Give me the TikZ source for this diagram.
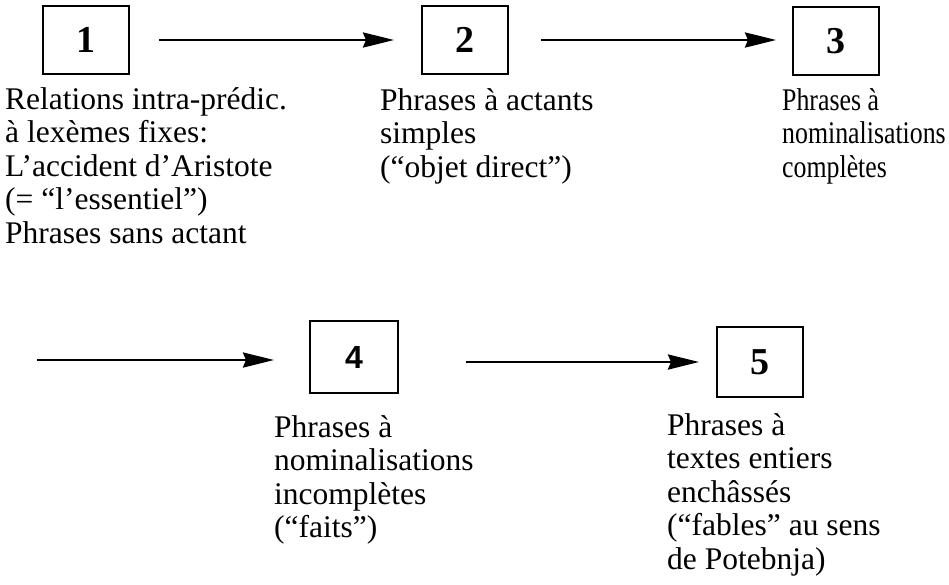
\documentclass[tikz,border=0pt]{standalone}
\usepackage{fontspec}
\setmainfont{Liberation Serif}
\newfontfamily\numsans{Liberation Sans}
\usetikzlibrary{arrows.meta}
\begin{document}
\begin{tikzpicture}[x=1pt,y=-1pt,
  numbox/.style={draw,line width=2pt,minimum width=86pt,minimum height=68pt,inner sep=0pt,font=\fontsize{38}{40}\selectfont\bfseries},
  desc/.style={align=left,inner sep=0pt,anchor=north west,font=\fontsize{31.5}{33.5}\selectfont},
  arr/.style={line width=2.8pt,-{Stealth[length=31pt,width=15pt,inset=3pt]}}]
\useasboundingbox (0,0) rectangle (949,584);
\node[numbox] (b1) at (86,40) {1};
\node[numbox] (b2) at (465,40) {2};
\node[numbox] (b3) at (836,41) {3};
\node[numbox,minimum width=88pt,minimum height=72pt,font=\fontsize{32}{34}\selectfont\numsans\bfseries] (b4) at (354,357) {4};
\node[numbox,minimum height=70pt] (b5) at (760,362) {5};
% first baselines: y = top + 23.45 (strut height)
\node[desc] (t1) at (5,85.5) {\strut Relations intra-prédic.\\à lexèmes fixes:\\L’accident d’Aristote\\(= “l’essentiel”)\\Phrases sans actant};
\node[desc] (t2) at (380,86.5) {\strut Phrases à actants\\simples\\(“objet direct”)};
\node[desc,xscale=0.82,transform shape] (t3) at (782,86.5) {\strut Phrases à\\nominalisations\\complètes};
\node[desc] (t4) at (274,413.5) {\strut Phrases à\\nominalisations\\incomplètes\\(“faits”)};
\node[desc] (t5) at (667,411.5) {\strut Phrases à\\textes entiers\\enchâssés\\(“fables” au sens\\de Potebnja)};
\coordinate (s4) at (37,360);
\draw[arr,shorten <=29pt,shorten >=27pt] (b1.east) -- (b2.west);
\draw[arr,shorten <=32pt,shorten >=16pt] (b2.east) -- (b2.east -| b3.west);
\draw[arr,shorten >=35pt] (s4) -- (s4 -| b4.west);
\draw[arr,shorten <=67pt,shorten >=17pt] (b5.west -| b4.east) -- (b5.west);
\end{tikzpicture}
\end{document}
